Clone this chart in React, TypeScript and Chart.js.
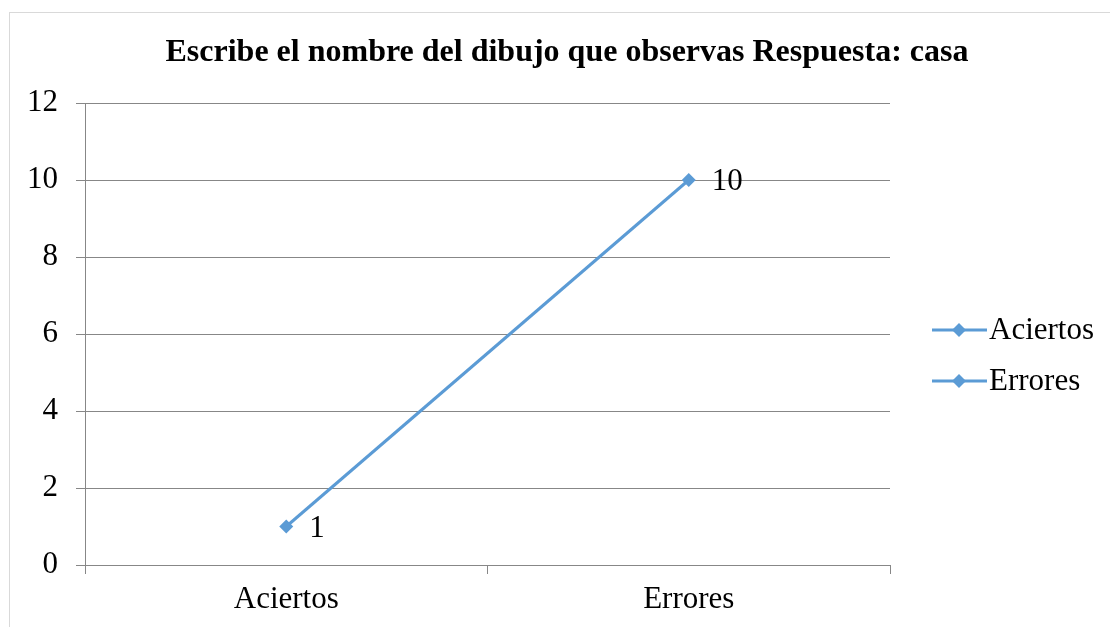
import React, { useEffect, useRef } from "react";
import { Chart, registerables } from "chart.js";

Chart.register(...registerables);

const TITLE = "Escribe el nombre del dibujo que observas Respuesta: casa";
const categories = ["Aciertos", "Errores"];
const values = [1, 10];
const legendLabels = ["Aciertos", "Errores"];
const yTicksMin = 0;
const yTicksMax = 12;
const yTickStep = 2;

const LINE_COLOR = "#5B9BD5";
const GRID_COLOR = "#878787";
const FONT = "'Liberation Serif', 'Times New Roman', serif";
const FS = 31;

export default function App() {
  const ref = useRef<HTMLCanvasElement | null>(null);

  useEffect(() => {
    if (!ref.current) return;
    const extras = {
      id: "extras",
      afterDatasetsDraw(chart: any) {
        const ctx = chart.ctx;
        const meta = chart.getDatasetMeta(0);
        ctx.save();
        ctx.fillStyle = "#000";
        ctx.font = `${FS}px ${FONT}`;
        ctx.textAlign = "left";
        ctx.textBaseline = "middle";
        meta.data.forEach((pt: any, i: number) => {
          ctx.fillText(String(values[i]), pt.x + 23, pt.y + 2);
        });
        ctx.restore();
      },
      afterDraw(chart: any) {
        const ctx = chart.ctx;
        const area = chart.chartArea;
        ctx.save();
        // title
        ctx.fillStyle = "#000";
        ctx.font = `bold 32px ${FONT}`;
        ctx.textAlign = "center";
        ctx.textBaseline = "middle";
        ctx.fillText(TITLE, 567, 53);
        // legend
        const lx = area.right + 42;
        const ly0 = 330;
        const gap = 51;
        legendLabels.forEach((lab, i) => {
          const y = ly0 + i * gap;
          ctx.strokeStyle = LINE_COLOR;
          ctx.lineWidth = 3;
          ctx.beginPath();
          ctx.moveTo(lx, y);
          ctx.lineTo(lx + 55, y);
          ctx.stroke();
          ctx.fillStyle = LINE_COLOR;
          ctx.beginPath();
          const cx = lx + 27, r = 7;
          ctx.moveTo(cx, y - r);
          ctx.lineTo(cx + r, y);
          ctx.lineTo(cx, y + r);
          ctx.lineTo(cx - r, y);
          ctx.closePath();
          ctx.fill();
          ctx.fillStyle = "#000";
          ctx.font = `${FS}px ${FONT}`;
          ctx.textAlign = "left";
          ctx.textBaseline = "middle";
          ctx.fillText(lab, lx + 57, y + 1);
        });
        ctx.restore();
      },
    };

    const chart = new Chart(ref.current, {
      type: "line",
      data: {
        labels: categories,
        datasets: [
          {
            label: "Serie",
            data: values,
            borderColor: LINE_COLOR,
            backgroundColor: LINE_COLOR,
            borderWidth: 3,
            pointStyle: "rectRot",
            pointRadius: 7,
            pointBorderWidth: 0,
            fill: false,
            tension: 0,
          },
        ],
      },
      options: {
        responsive: false,
        animation: false,
        layout: { padding: { top: 103, right: 220, bottom: 0, left: 0 } },
        plugins: {
          legend: { display: false },
          title: { display: false },
          tooltip: { enabled: false },
        },
        scales: {
          x: {
            type: "category",
            offset: true,
            grid: {
              offset: true,
              drawOnChartArea: false,
              drawTicks: true,
              tickLength: 9,
              color: GRID_COLOR,
            },
            border: { display: true, color: GRID_COLOR, width: 1 },
            ticks: {
              color: "#000",
              font: { family: FONT, size: FS },
              padding: 7,
              maxRotation: 0,
            },
            afterFit: (scale: any) => {
              scale.height = 62;
            },
          },
          y: {
            min: yTicksMin,
            max: yTicksMax,
            grid: {
              color: GRID_COLOR,
              drawTicks: true,
              tickLength: 9,
            },
            border: { display: true, color: GRID_COLOR, width: 1 },
            ticks: {
              stepSize: yTickStep,
              color: "#000",
              font: { family: FONT, size: FS },
              padding: 18,
            },
            afterFit: (scale: any) => {
              scale.width = 85;
            },
          },
        },
      },
      plugins: [extras],
    });
    return () => chart.destroy();
  }, []);

  return (
    <div
      style={{
        position: "fixed",
        left: 0,
        top: 0,
        width: 1110,
        height: 627,
        overflow: "hidden",
        background: "#fff",
      }}
    >
      <div
        style={{
          position: "absolute",
          left: 9,
          top: 12,
          width: 1200,
          height: 700,
          border: "1px solid #D9D9D9",
          boxSizing: "border-box",
        }}
      />
      <canvas
        ref={ref}
        width={1110}
        height={627}
        style={{ position: "absolute", left: 0, top: 0, width: 1110, height: 627 }}
      />
    </div>
  );
}
